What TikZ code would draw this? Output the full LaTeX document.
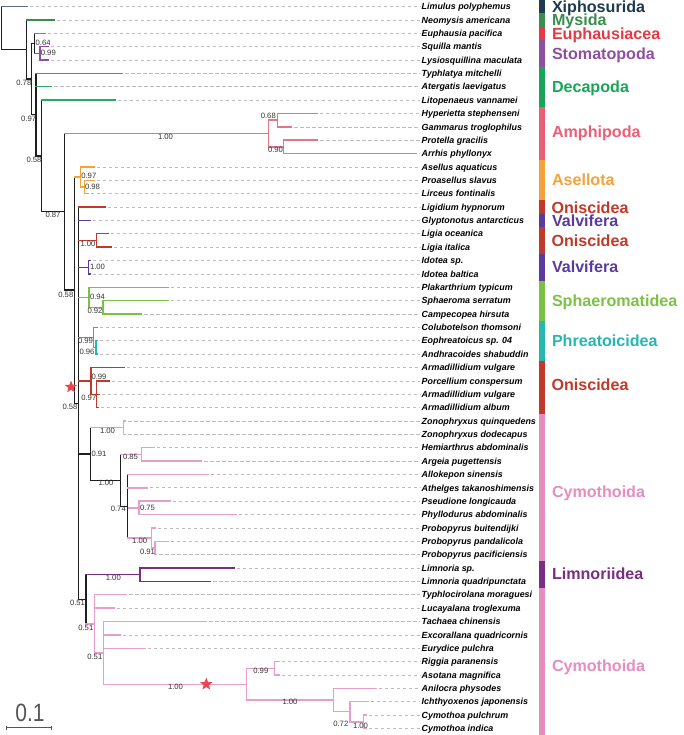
\documentclass[tikz,border=0pt]{standalone}
\usepackage{fontspec}
\usepackage{graphicx}
\setmainfont{Liberation Sans}
\usetikzlibrary{shapes.geometric}
\definecolor{xiphbar}{HTML}{1D3A4E}
\definecolor{xiphln}{HTML}{5D6B73}
\definecolor{mysc}{HTML}{3B8D4E}
\definecolor{euphc}{HTML}{E63946}
\definecolor{euphln}{HTML}{E0566A}
\definecolor{stomc}{HTML}{8E4FA3}
\definecolor{decac}{HTML}{18A557}
\definecolor{decaln}{HTML}{2AA866}
\definecolor{amphc}{HTML}{EA5F78}
\definecolor{amphln}{HTML}{E27689}
\definecolor{aselc}{HTML}{F4A23A}
\definecolor{oniscc}{HTML}{C0392B}
\definecolor{valvc}{HTML}{5B3A9E}
\definecolor{sphac}{HTML}{7CC144}
\definecolor{phrec}{HTML}{25B7B0}
\definecolor{cymoc}{HTML}{E48DBF}
\definecolor{cymoln}{HTML}{E79ECA}
\definecolor{limnc}{HTML}{7A2E83}
\definecolor{starc}{HTML}{E8474F}
\definecolor{blkln}{HTML}{1E1E1E}
\definecolor{dashc}{HTML}{BDBDBD}
\definecolor{bstext}{HTML}{333333}
\definecolor{scalec}{HTML}{555555}

\newcommand{\brn}[4]{\draw[#1] (#3) -- (#3 |- #4); \draw[#2] (#3 |- #4) -- (#4);}

\begin{document}
\begin{tikzpicture}[x=1pt,y=-1pt,
  ln/.style={line width=1.4pt, line cap=rect},
  blk/.style={ln, draw=blkln},
  xil/.style={ln, draw=xiphln},
  myl/.style={ln, draw=mysc},
  eul/.style={ln, draw=euphln},
  stl/.style={ln, draw=stomc},
  del/.style={ln, draw=decaln},
  aml/.style={ln, draw=amphln},
  asl/.style={ln, draw=aselc},
  onl/.style={ln, draw=oniscc},
  val/.style={ln, draw=valvc},
  spl/.style={ln, draw=sphac},
  phl/.style={ln, draw=phrec},
  cyl/.style={ln, draw=cymoln},
  lil/.style={ln, draw=limnc},
  dashln/.style={draw=dashc, line width=0.65pt, dash pattern=on 3.5pt off 2.5pt},
  tiplab/.style={anchor=west, inner sep=0pt, text height=6.4pt, text depth=0pt,
    font=\fontsize{8.9}{9}\selectfont\bfseries\itshape},
  cladelab/.style={anchor=base west, inner sep=0pt, font=\fontsize{16.1}{17}\selectfont\bfseries},
  bs/.style={inner sep=0pt, text=bstext, font=\fontsize{7.7}{8}\selectfont},
  starmark/.style={star, star points=5, star point ratio=2.3, fill=starc, draw=none, minimum size=13pt, inner sep=0pt}
]
\useasboundingbox (0,0) rectangle (683,735);

% ---- tips, labels, dashed guides
\foreach \i/\tx/\nm in {
1/27/Limulus polyphemus,
2/54.3/Neomysis americana,
3/45/Euphausia pacifica,
4/48.3/Squilla mantis,
5/48.3/Lysiosquillina maculata,
6/122.7/Typhlatya mitchelli,
7/51.7/Atergatis laevigatus,
8/115/Litopenaeus vannamei,
9/317.3/Hyperietta stephenseni,
10/291.7/Gammarus troglophilus,
11/317.7/Protella gracilis,
12/416.7/Arrhis phyllonyx,
13/94.3/Asellus aquaticus,
14/94/Proasellus slavus,
15/88/Lirceus fontinalis,
16/105/Ligidium hypnorum,
17/90/Glyptonotus antarcticus,
18/108.3/Ligia oceanica,
19/111/Ligia italica,
20/90/Idotea sp.,
21/90/Idotea baltica,
22/168.3/Plakarthrium typicum,
23/168.3/Sphaeroma serratum,
24/141.7/Campecopea hirsuta,
25/97.3/Colubotelson thomsoni,
26/97.3/Eophreatoicus sp. 04,
27/97.3/Andhracoides shabuddin,
28/124.3/Armadillidium vulgare,
29/109.3/Porcellium conspersum,
30/99/Armadillidium vulgare,
31/98/Armadillidium album,
32/125.5/Zonophryxus quinquedens,
33/125.5/Zonophryxus dodecapus,
34/154.3/Hemiarthrus abdominalis,
35/201.7/Argeia pugettensis,
36/208.3/Allokepon sinensis,
37/147/Athelges takanoshimensis,
38/170.3/Pseudione longicauda,
39/236/Phyllodurus abdominalis,
40/155/Probopyrus buitendijki,
41/168.3/Probopyrus pandalicola,
42/156.7/Probopyrus pacificiensis,
43/234/Limnoria sp.,
44/210.7/Limnoria quadripunctata,
45/126.7/Typhlocirolana moraguesi,
46/114/Lucayalana troglexuma,
47/206.7/Tachaea chinensis,
48/120/Excorallana quadricornis,
49/145/Eurydice pulchra,
50/279.3/Riggia paranensis,
51/279.3/Asotana magnifica,
52/376/Anilocra physodes,
53/368.3/Ichthyoxenos japonensis,
54/366/Cymothoa pulchrum,
55/366/Cymothoa indica}{
  \pgfmathsetmacro{\yy}{6.5+(\i-1)*13.37}
  \coordinate (t\i) at (\tx,\yy);
  \node[tiplab] (l\i) at (421.5,\yy) {\nm};
  \draw[dashln] ([xshift=2.5pt]t\i) -- ([xshift=-1.5pt]l\i.west);
}

% ---- internal nodes
\coordinate (nR) at (1.2,27.95);
\coordinate (nN1) at (26.7,49.4);
\coordinate (nY) at (31.7,78.9);
\coordinate (nA) at (34.5,43.27);
\coordinate (nSt) at (40,53.3);
\coordinate (nB) at (36,114.6);
\coordinate (nC) at (41.7,155.9);
\coordinate (nD) at (64.3,211.8);
\coordinate (nAm) at (268.3,133.5);
\coordinate (nAmA) at (277.3,120.15);
\coordinate (nAmB) at (283.3,146.9);
\coordinate (nE) at (74.7,290.1);
\coordinate (nAsA) at (80.5,176.97);
\coordinate (nAsB) at (84.5,187.0);
\coordinate (nF) at (78.3,403.2);
\coordinate (nLi) at (96.7,240.48);
\coordinate (nId) at (88.7,267.2);
\coordinate (nSpA) at (89,297.3);
\coordinate (nSpB) at (103,307.33);
\coordinate (nPhA) at (93.3,337.4);
\coordinate (nPhB) at (96,347.44);
\coordinate (nOA) at (91,380.86);
\coordinate (nOB) at (96.7,394.23);
\coordinate (nG) at (90.7,453.98);
\coordinate (nZ) at (123.7,427.66);
\coordinate (nH) at (120.3,480.3);
\coordinate (nI) at (141.3,454.4);
\coordinate (nJ) at (127.3,506.2);
\coordinate (nK) at (139,507.88);
\coordinate (nL) at (151.7,537.96);
\coordinate (nM) at (155,547.99);
\coordinate (nP) at (86,599.3);
\coordinate (nLm) at (140,574.73);
\coordinate (nQ) at (94.3,623.82);
\coordinate (nRr) at (103.3,652.86);
\coordinate (nS) at (246.7,684.2);
\coordinate (nRi) at (274.3,668.3);
\coordinate (nT) at (333.3,700.07);
\coordinate (nU) at (350,711.77);
\coordinate (nV) at (363.3,721.8);

% ---- branches
\brn{blk}{xil}{nR}{t1}
\brn{blk}{blk}{nR}{nN1}
\brn{blk}{myl}{nN1}{t2}
\brn{blk}{blk}{nN1}{nY}
\brn{blk}{blk}{nY}{nA}
\brn{blk}{blk}{nY}{nB}
\brn{blk}{eul}{nA}{t3}
\brn{blk}{stl}{nA}{nSt}
\brn{stl}{stl}{nSt}{t4}
\brn{stl}{stl}{nSt}{t5}
\brn{blk}{del}{nB}{t6}
\brn{blk}{del}{nB}{t7}
\brn{blk}{blk}{nB}{nC}
\brn{blk}{del}{nC}{t8}
\brn{blk}{blk}{nC}{nD}
\brn{blk}{aml}{nD}{nAm}
\brn{blk}{blk}{nD}{nE}
\foreach \c in {nAmA,nAmB} {\brn{aml}{aml}{nAm}{\c}}
\foreach \c in {t9,t10} {\brn{aml}{aml}{nAmA}{\c}}
\foreach \c in {t11,t12} {\brn{aml}{aml}{nAmB}{\c}}
\brn{blk}{asl}{nE}{nAsA}
\brn{blk}{blk}{nE}{nF}
\foreach \c in {t13,nAsB} {\brn{asl}{asl}{nAsA}{\c}}
\foreach \c in {t14,t15} {\brn{asl}{asl}{nAsB}{\c}}
\brn{blk}{onl}{nF}{t16}
\brn{blk}{val}{nF}{t17}
\brn{blk}{onl}{nF}{nLi}
\brn{blk}{val}{nF}{nId}
\brn{blk}{spl}{nF}{nSpA}
\brn{blk}{phl}{nF}{nPhA}
\brn{blk}{onl}{nF}{nOA}
\brn{blk}{blk}{nF}{nG}
\brn{blk}{blk}{nF}{nP}
\foreach \c in {t18,t19} {\brn{onl}{onl}{nLi}{\c}}
\foreach \c in {t20,t21} {\brn{val}{val}{nId}{\c}}
\foreach \c in {t22,nSpB} {\brn{spl}{spl}{nSpA}{\c}}
\foreach \c in {t23,t24} {\brn{spl}{spl}{nSpB}{\c}}
\foreach \c in {t25,nPhB} {\brn{phl}{phl}{nPhA}{\c}}
\foreach \c in {t26,t27} {\brn{phl}{phl}{nPhB}{\c}}
\foreach \c in {t28,nOB} {\brn{onl}{onl}{nOA}{\c}}
\foreach \c in {t29,t30,t31} {\brn{onl}{onl}{nOB}{\c}}
\brn{blk}{cyl}{nG}{nZ}
\brn{blk}{blk}{nG}{nH}
\foreach \c in {t32,t33} {\brn{cyl}{cyl}{nZ}{\c}}
\brn{blk}{cyl}{nH}{nI}
\brn{blk}{blk}{nH}{nJ}
\foreach \c in {t34,t35} {\brn{cyl}{cyl}{nI}{\c}}
\foreach \c in {t36,t37,nK,nL} {\brn{blk}{cyl}{nJ}{\c}}
\foreach \c in {t38,t39} {\brn{cyl}{cyl}{nK}{\c}}
\foreach \c in {t40,nM} {\brn{cyl}{cyl}{nL}{\c}}
\foreach \c in {t41,t42} {\brn{cyl}{cyl}{nM}{\c}}
\brn{blk}{lil}{nP}{nLm}
\brn{blk}{cyl}{nP}{nQ}
\foreach \c in {t43,t44} {\brn{lil}{lil}{nLm}{\c}}
\foreach \c in {t45,t46,nRr} {\brn{cyl}{cyl}{nQ}{\c}}
\foreach \c in {t47,t48,t49,nS} {\brn{cyl}{cyl}{nRr}{\c}}
\foreach \c in {nRi,nT} {\brn{cyl}{cyl}{nS}{\c}}
\foreach \c in {t50,t51} {\brn{cyl}{cyl}{nRi}{\c}}
\foreach \c in {t52,nU} {\brn{cyl}{cyl}{nT}{\c}}
\foreach \c in {t53,nV} {\brn{cyl}{cyl}{nU}{\c}}
\foreach \c in {t54,t55} {\brn{cyl}{cyl}{nV}{\c}}

% ---- stars
\node[starmark] (starA) at (71,387) {};
\node[starmark] (starB) at (206.3,684.2) {};

% ---- support values
\foreach \px/\py/\v [count=\k] in {
23.8/83/0.78, 43.2/42.7/0.64, 48.3/53.3/0.99, 28.7/118.5/0.97,
34/160/0.58, 53/215/0.87, 165.5/137/1.00, 268.3/116/0.68, 275.5/150/0.90,
88.8/176/0.97, 92.5/187.3/0.98, 65.8/295/0.58, 88/244/1.00, 97.5/267.3/1.00,
97.5/296.7/0.94, 95/311/0.92, 85.5/340.7/0.99, 87/351.7/0.96,
99/376.7/0.99, 88.8/397.7/0.97, 70/407/0.58, 107.5/431/1.00, 99/454/0.91,
130.5/457.3/0.85, 106/483.3/1.00, 118.3/509.3/0.74, 147.5/508.3/0.75,
139.7/541/1.00, 147.5/551.7/0.91, 113.3/577.7/1.00, 77.5/602.7/0.51,
85.8/627.7/0.51, 94.8/657.3/0.51, 175.5/686.7/1.00, 260.8/671/0.99,
290/702.3/1.00, 340.8/724/0.72, 360.5/725.5/1.00}{
  \node[bs] (bs\k) at (\px,\py) {\v};
}

% ---- clade bars
\foreach \ya/\yb/\cc in {0/13.185/xiphbar, 13.185/26.555/mysc, 26.555/39.925/euphc,
 39.925/66.665/stomc, 66.665/106.775/decac, 106.775/160.255/amphc,
 160.255/200.365/aselc, 200.365/213.735/oniscc, 213.735/227.105/valvc,
 227.105/253.845/oniscc, 253.845/280.585/valvc, 280.585/320.695/sphac,
 320.695/360.805/phrec, 360.805/414.285/oniscc, 414.285/561.355/cymoc,
 561.355/588.095/limnc, 588.095/735/cymoc}{
  \fill[\cc] (539,\ya) rectangle (545.3,\yb);
}

% ---- clade labels
\node[cladelab, text=xiphbar] (cXi) at (551.8,12.3) {Xiphosurida};
\node[cladelab, text=mysc] (cMy) at (551.8,26) {Mysida};
\node[cladelab, text=euphc] (cEu) at (551.8,39.3) {Euphausiacea};
\node[cladelab, text=stomc] (cSt) at (551.8,60) {Stomatopoda};
\node[cladelab, text=decac] (cDe) at (551.8,92.7) {Decapoda};
\node[cladelab, text=amphc] (cAm) at (551.8,137.7) {Amphipoda};
\node[cladelab, text=aselc] (cAs) at (551.8,186) {Asellota};
\node[cladelab, text=oniscc] (cOn1) at (551.3,213.3) {Oniscidea};
\node[cladelab, text=valvc] (cVa1) at (551.8,226.7) {Valvifera};
\node[cladelab, text=oniscc] (cOn2) at (551.3,246.7) {Oniscidea};
\node[cladelab, text=valvc] (cVa2) at (551.8,272.3) {Valvifera};
\node[cladelab, text=sphac] (cSp) at (551.8,306) {Sphaeromatidea};
\node[cladelab, text=phrec] (cPh) at (551.8,346) {Phreatoicidea};
\node[cladelab, text=oniscc] (cOn3) at (551.3,390) {Oniscidea};
\node[cladelab, text=cymoc] (cCy1) at (551.8,497.7) {Cymothoida};
\node[cladelab, text=limnc] (cLi) at (551.8,579) {Limnoriidea};
\node[cladelab, text=cymoc] (cCy2) at (551.8,671) {Cymothoida};

% ---- scale bar
\coordinate (sbA) at (6.7,727.7);
\coordinate (sbB) at (51,727.7);
\draw[draw=scalec, line width=1.4pt] (sbA) -- (sbB);
\draw[draw=scalec, line width=1pt] ([yshift=2.2pt]sbA) -- ([yshift=-2.2pt]sbA);
\draw[draw=scalec, line width=1pt] ([yshift=2.2pt]sbB) -- ([yshift=-2.2pt]sbB);
\node[anchor=base, inner sep=0pt, text=scalec, font=\fontsize{25}{25}\selectfont] (sbl) at (30,721.7) {\scalebox{0.84}[1]{0.1}};
\end{tikzpicture}
\end{document}
